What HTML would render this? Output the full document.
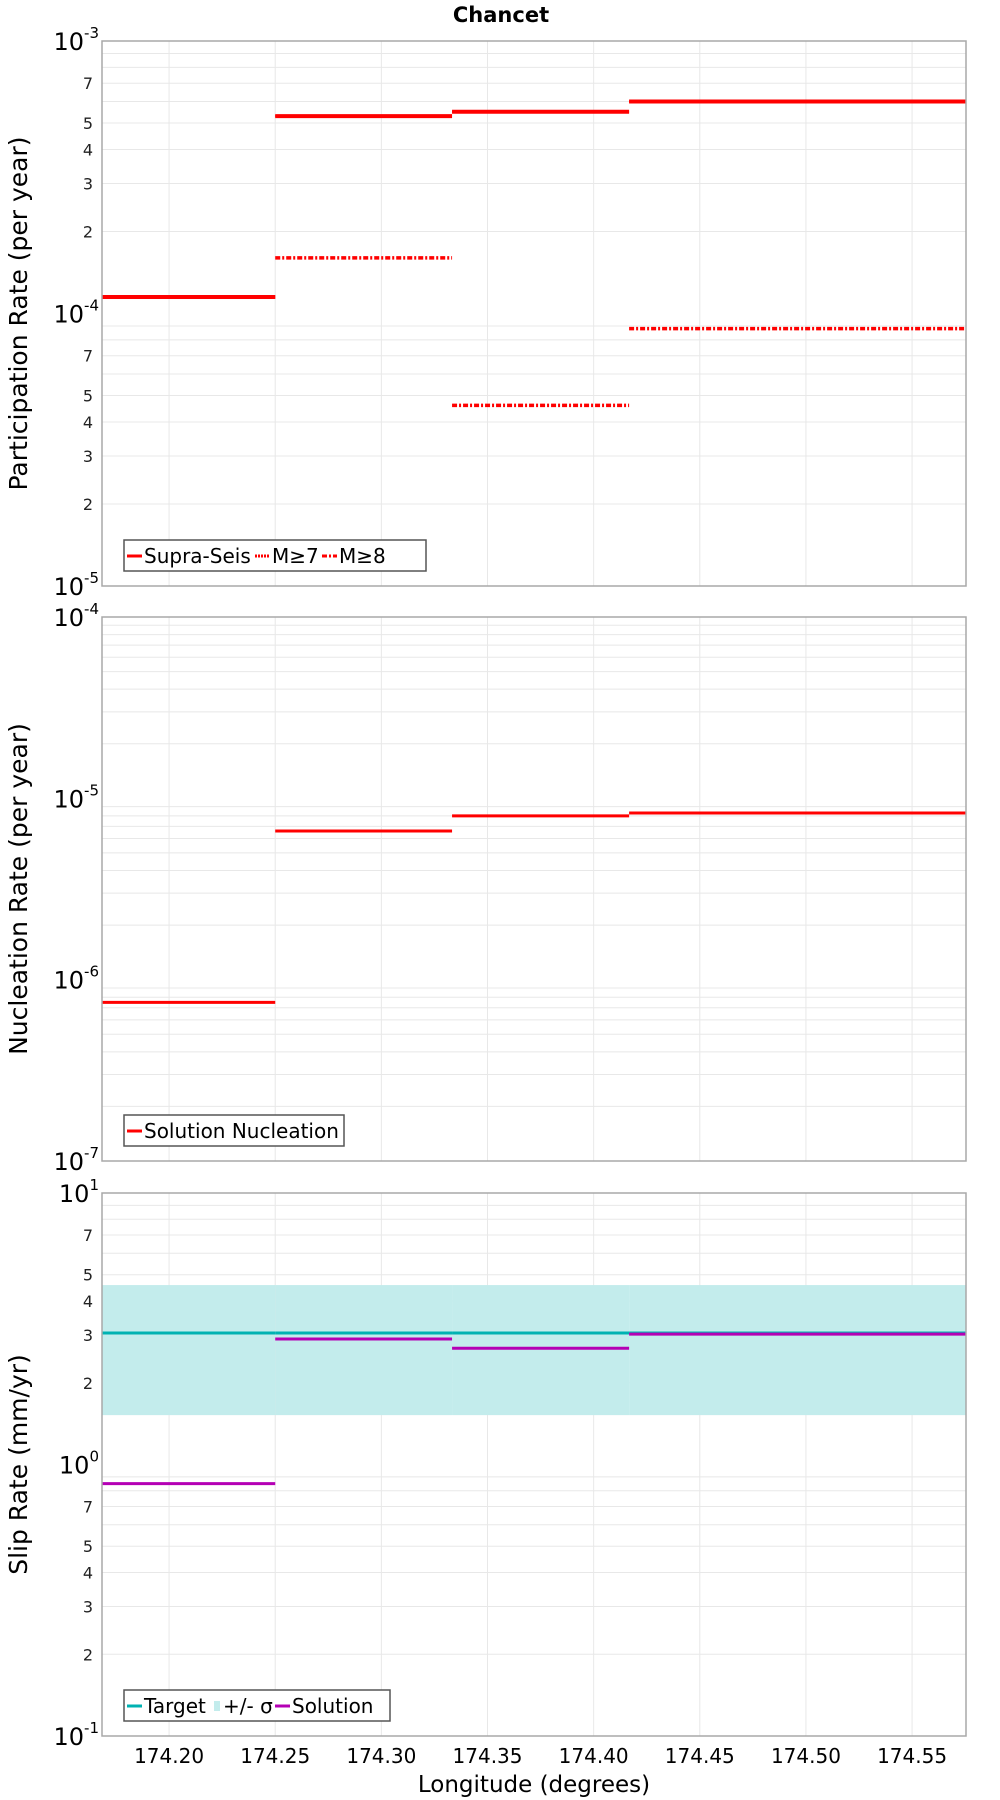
<!DOCTYPE html>
<html><head><meta charset="utf-8"><style>
body{margin:0;background:#fff;}
svg{display:block;font-family:"DejaVu Sans","Liberation Sans",sans-serif;}
</style></head><body>
<svg id="chart" width="1000" height="1800" viewBox="0 0 1000 1800" xmlns="http://www.w3.org/2000/svg">
<text x="501" y="22" text-anchor="middle" font-size="21" font-weight="bold">Chancet</text>
<text x="534" y="1792" text-anchor="middle" font-size="23">Longitude (degrees)</text>
</svg>
<script>
const xTicks=[174.20,174.25,174.30,174.35,174.40,174.45,174.50,174.55];
const xMin=174.1684, xMax=174.5754;
const segStarts=[174.1684,174.25,174.3333,174.4167];
const segEnds=[174.25,174.3333,174.4167,174.5754];
const supraSeis=[1.15e-4,5.3e-4,5.5e-4,6.0e-4];
const m7=[1.15e-4,5.3e-4,5.5e-4,6.0e-4];
const m8=[1.15e-4,1.6e-4,4.6e-5,8.8e-5];
const nucleation=[7.5e-7,6.6e-6,8.0e-6,8.3e-6];
const slipTarget=[3.05,3.05,3.05,3.05];
const slipLow=[1.52,1.52,1.52,1.52];
const slipHigh=[4.58,4.58,4.58,4.58];
const slipSolution=[0.85,2.9,2.68,3.02];

const NS="http://www.w3.org/2000/svg";
const svg=document.getElementById('chart');
const L=102,R=966;
function X(v){return L+(v-xMin)/(xMax-xMin)*(R-L);}
function mk(tag,attrs,parent){const e=document.createElementNS(NS,tag);for(const k in attrs)e.setAttribute(k,attrs[k]);(parent||svg).appendChild(e);return e;}

const panels=[
 {name:'participation',top:41,bot:586,lo:-5,hi:-3,minorLabels:true,title:'Participation Rate (per year)'},
 {name:'nucleation',top:617,bot:1161,lo:-7,hi:-4,minorLabels:false,title:'Nucleation Rate (per year)'},
 {name:'slip',top:1193,bot:1736,lo:-1,hi:1,minorLabels:true,title:'Slip Rate (mm/yr)'}
];
function Yf(p){return v=>p.bot-(Math.log10(v)-p.lo)/(p.hi-p.lo)*(p.bot-p.top);}

panels.forEach(p=>{
  const Y=Yf(p);
  const g=mk('g',{});
  
  
  xTicks.forEach(t=>{const l=mk('line',{x1:X(t),x2:X(t),y1:p.top,y2:p.bot,stroke:'#e8e8e8','stroke-width':1},g);
    });
  for(let d=p.lo;d<p.hi;d++){for(let m=2;m<=9;m++){const v=m*Math.pow(10,d);const y=Y(v);
    const l=mk('line',{x1:L,x2:R,y1:y,y2:y,stroke:'#e8e8e8','stroke-width':1},g);
    
    if(p.minorLabels&&[2,3,4,5,7].includes(m)){const t=mk('text',{x:L-9,y:y+6,'text-anchor':'end','font-size':16,fill:'#222'},g);t.textContent=m;
      }
  }}
  for(let d=p.lo;d<=p.hi;d++){const y=Y(Math.pow(10,d));
    const t=mk('text',{x:L-3,y:y+9,'text-anchor':'end','font-size':24,fill:'#000'},g);
    
    t.appendChild(document.createTextNode('10'));
    const s=mk('tspan',{'font-size':15,dy:-12},t);s.textContent=String(d);
  }
  const tt=mk('text',{x:0,y:0,'text-anchor':'middle','font-size':25,transform:`translate(27,${(p.top+p.bot)/2}) rotate(-90)`},g);
  tt.textContent=p.title;
  p.g=g;p.Y=Y;
});

function segs(p,vals,color,dash,name,w){
  vals.forEach((v,i)=>{const a={x1:X(segStarts[i]),x2:X(segEnds[i]),y1:p.Y(v),y2:p.Y(v),stroke:color,'stroke-width':w||3};
    if(dash)a['stroke-dasharray']=dash;
    const l=mk('line',a,p.g);});
}
const P=panels;
segs(P[0],supraSeis,'#ff0000',null,'supra-seis-segment',4);
segs(P[0],m7,'#ff0000','2 1','m7-segment',2);
segs(P[0],m8,'#ff0000','5 2 2 2','m8-segment',3.5);
segs(P[1],nucleation,'#ff0000',null,'nucleation-segment');
slipHigh.forEach((v,i)=>{const r=mk('rect',{x:X(segStarts[i]),y:P[2].Y(v),width:X(segEnds[i])-X(segStarts[i]),height:P[2].Y(slipLow[i])-P[2].Y(v),fill:'#c3ecec'},P[2].g);
  });
segs(P[2],slipTarget,'#00b2b2',null,'target-segment');
segs(P[2],slipSolution,'#b400b4',null,'solution-segment');

panels.forEach(p=>{const f=mk('rect',{x:L,y:p.top,width:R-L,height:p.bot-p.top,fill:'none',stroke:'#a8a8a8','stroke-width':1.5},p.g);
  });
xTicks.forEach(t=>{const e=mk('text',{x:X(t),y:1763,'text-anchor':'middle','font-size':20},svg);e.textContent=t.toFixed(2);
  });

function legend(p,items,w){
  const y=p.bot-46;
  const g=mk('g',{},p.g);
  const b=mk('rect',{x:124,y:y,width:w,height:31,fill:'#fff',stroke:'#555','stroke-width':1.5},g);
  
  let x=127;
  items.forEach(it=>{
    const e=mk('g',{},g);
    if(it.band){mk('rect',{x:x,y:y+11,width:6,height:10,fill:it.c},e);x+=9;}
    else{const a={x1:x,x2:x+15,y1:y+16,y2:y+16,stroke:it.c,'stroke-width':3};if(it.d)a['stroke-dasharray']=it.d;mk('line',a,e);x+=17;}
    const t=mk('text',{x:x,y:y+23,'font-size':20},e);t.textContent=it.t;x+=it.w;
  });
}
legend(P[0],[{c:'#f00',t:'Supra-Seis',w:111},{c:'#f00',d:'2 1',t:'M≥7',w:50},{c:'#f00',d:'5 2 2 2',t:'M≥8',w:44}],302);
legend(P[1],[{c:'#f00',t:'Solution Nucleation',w:195}],220);
legend(P[2],[{c:'#00b2b2',t:'Target',w:70},{c:'#c3ecec',band:1,t:'+/- σ',w:52},{c:'#b400b4',t:'Solution',w:90}],266);
</script>
</body></html>
